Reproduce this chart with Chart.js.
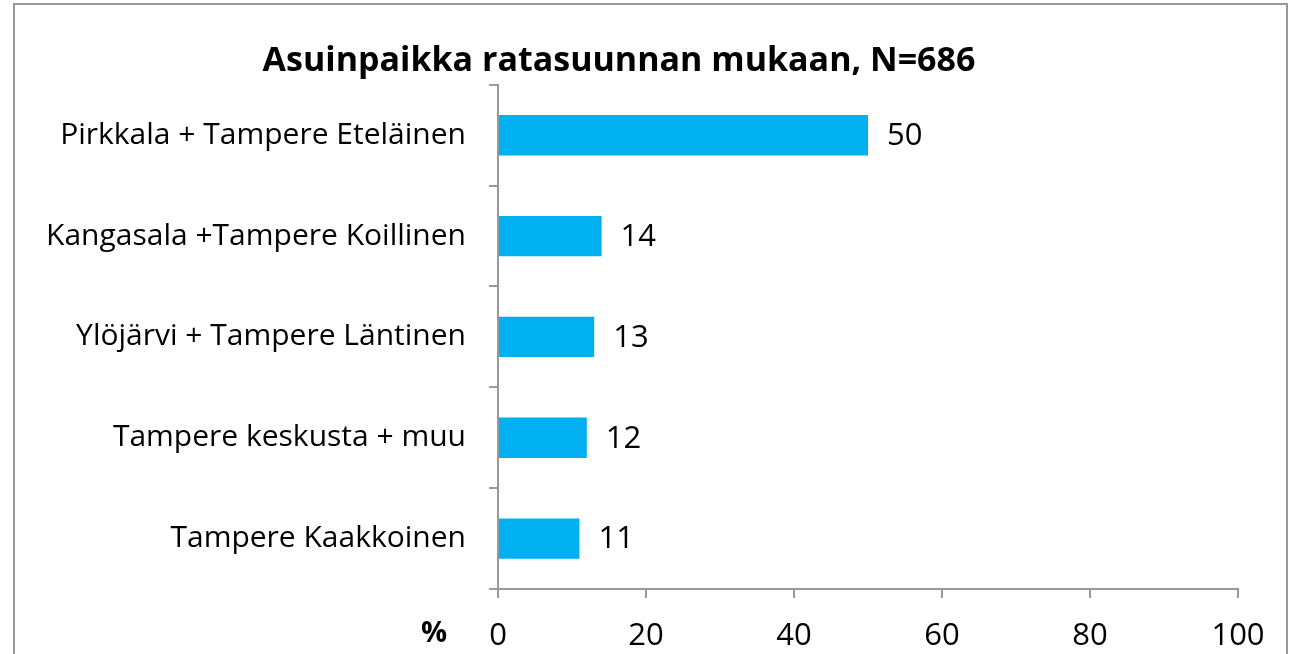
<!DOCTYPE html>
<html lang="fi">
<head>
    <meta charset="UTF-8">
    <title>Asuinpaikka ratasuunnan mukaan</title>
    <script src="https://cdn.jsdelivr.net/npm/chart.js"></script>
    <style>
        html, body { margin: 0; padding: 0; background: #fff; overflow: hidden; }
        #wrap { position: relative; width: 1294px; height: 654px; }
        #frame { position: absolute; left: 13px; top: 3px; width: 1275px; height: 700px; border: 2px solid #999; box-sizing: border-box; }
        canvas { position: absolute; left: 0; top: 0; }
    </style>
</head>
<body>
    <div id="wrap">
        <div id="frame"></div>
        <canvas id="chart" width="1294" height="654"></canvas>
    </div>
    <script>
        const categories = [
            'Pirkkala + Tampere Eteläinen',
            'Kangasala +Tampere Koillinen',
            'Ylöjärvi + Tampere Läntinen',
            'Tampere keskusta + muu',
            'Tampere Kaakkoinen'
        ];
        const values = [50, 14, 13, 12, 11];
        const xTicks = [0, 20, 40, 60, 80, 100];

        const FONT = '"Open Sans", Lato, sans-serif';
        const axisGray = '#999999';

        // value labels next to bars + "%" under the axis
        const extras = {
            id: 'extras',
            afterDatasetsDraw(chart) {
                const ctx = chart.ctx;
                const meta = chart.getDatasetMeta(0);
                ctx.save();
                ctx.fillStyle = '#000';
                ctx.font = '31px ' + FONT;
                ctx.textAlign = 'left';
                ctx.textBaseline = 'middle';
                meta.data.forEach((bar, i) => {
                    ctx.fillText(String(values[i]), bar.x + 19, bar.y + 1);
                });
                ctx.font = 'bold 29px ' + FONT;
                ctx.textAlign = 'center';
                ctx.fillText('%', chart.chartArea.left - 64, 634);
                ctx.restore();
            }
        };

        new Chart(document.getElementById('chart'), {
            type: 'bar',
            data: {
                labels: categories,
                datasets: [{
                    data: values,
                    backgroundColor: '#00B0F0',
                    borderWidth: 0,
                    barPercentage: 0.8,
                    categoryPercentage: 0.5
                }]
            },
            options: {
                indexAxis: 'y',
                responsive: false,
                animation: false,
                layout: { padding: { left: 0, right: 56, top: 0, bottom: 0 } },
                plugins: {
                    legend: { display: false },
                    tooltip: { enabled: false },
                    title: {
                        display: true,
                        text: 'Asuinpaikka ratasuunnan mukaan, N=686',
                        color: '#000',
                        font: { family: FONT, size: 34, weight: 'bold' },
                        padding: { top: 41, bottom: 3 }
                    }
                },
                scales: {
                    x: {
                        min: 0,
                        max: 100,
                        afterBuildTicks: s => { s.ticks = xTicks.map(v => ({ value: v })); },
                        afterFit: s => { s.height = 65; },
                        grid: { drawOnChartArea: false, color: axisGray, lineWidth: 2, tickLength: 9 },
                        border: { color: axisGray, width: 2 },
                        ticks: { color: '#000', font: { family: FONT, size: 31 }, padding: 20 }
                    },
                    y: {
                        afterFit: s => { s.width = 498; },
                        grid: { drawOnChartArea: false, offset: true, color: axisGray, lineWidth: 2, tickLength: 9 },
                        border: { color: axisGray, width: 2 },
                        ticks: { color: '#000', font: { family: FONT, size: 30 }, padding: 23 }
                    }
                }
            },
            plugins: [extras]
        });
    </script>
</body>
</html>
